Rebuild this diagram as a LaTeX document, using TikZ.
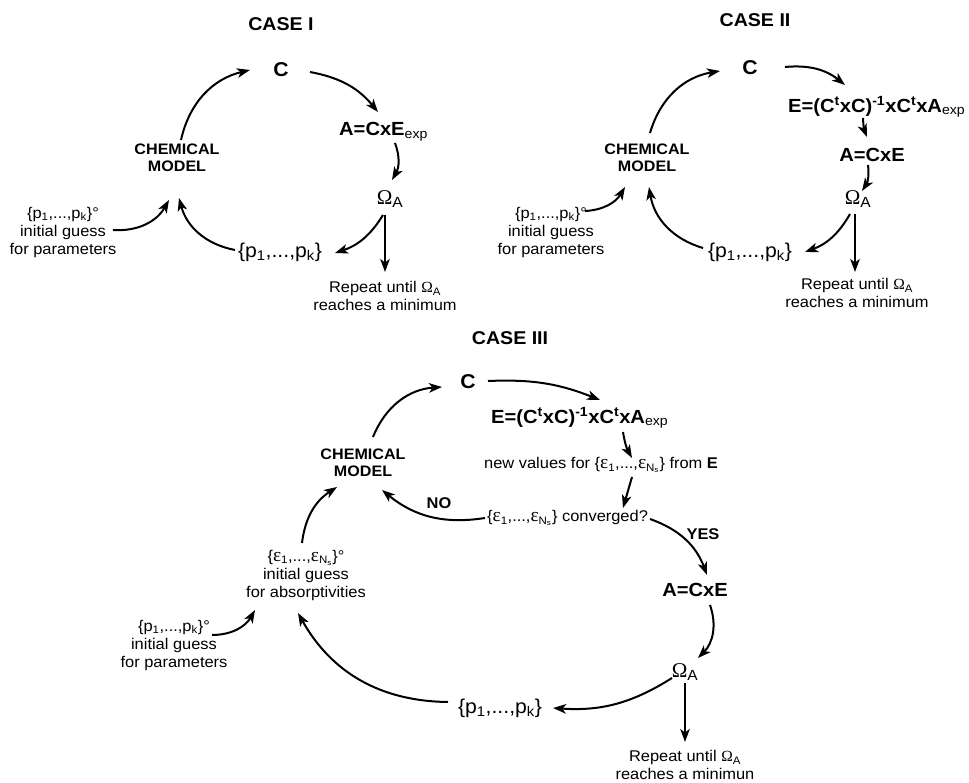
\documentclass[tikz,border=0pt]{standalone}
\usepackage{fontspec}
\setmainfont{Liberation Sans}[FakeStretch=1.06]
\newfontfamily\symfnt{Liberation Serif}
\newfontfamily\epsfnt{Liberation Serif}[Scale=1.25]
\usetikzlibrary{arrows.meta}
\newcommand{\Om}{{\symfnt Ω}}
\newcommand{\eps}{{\epsfnt ε}}
\newcommand{\sbs}[1]{\textsubscript{#1}}
\newcommand{\sps}[1]{\textsuperscript{#1}}
\tikzset{
  ttl/.style={font=\fontsize{18.5}{21}\selectfont\bfseries, inner sep=1pt},
  bigc/.style={font=\fontsize{20}{22}\selectfont\bfseries, inner sep=2pt},
  eqn/.style={font=\fontsize{19}{21}\selectfont\bfseries, inner sep=2pt},
  chm/.style={font=\fontsize{15.2}{16.5}\selectfont\bfseries, align=center, inner sep=2pt},
  lbl/.style={font=\fontsize{15.5}{18}\selectfont, align=center, inner sep=1pt},
  pset/.style={font=\fontsize{20}{22}\selectfont, inner sep=2pt},
  omg/.style={font=\fontsize{21}{22}\selectfont, inner sep=2pt},
  yn/.style={font=\fontsize{15.5}{17}\selectfont\bfseries, inner sep=1pt},
  arr/.style={-{Stealth[length=13pt,width=9.5pt,inset=3.5pt]}, line width=2pt},
}
\begin{document}
\begin{tikzpicture}[x=1pt,y=-1pt]
\useasboundingbox (0,0) rectangle (969,783);
% ---------------- CASE I
\node[ttl] (t1) at (281,24) {CASE I};
\node[bigc] (c1) at (281,70) {C};
\node[eqn, anchor=west] (a1) at (337,132) {A=CxE\sbs{\mdseries exp}};
\node[chm] (cm1) at (177,158) {CHEMICAL\\MODEL};
\node[omg] (o1) at (390,199) {\Om\sbs{A}};
\node[pset] (p1) at (280,252) {\{p\sbs{1},...,p\sbs{k}\}};
\node[lbl] (g1) at (63,232) {\{p\sbs{1},...,p\sbs{k}\}°\\initial guess\\for parameters};
\node[lbl] (r1) at (385,296) {Repeat until \Om\sbs{A}\\reaches a minimum};
\draw[arr] ([shift={(4,-18)}]cm1.center) to[bend left=32] ([shift={(-31,0)}]c1.center);
\draw[arr] ([shift={(29,2)}]c1.center) to[bend left=20] ([shift={(41,-20)}]a1.west);
\draw[arr] ([shift={(58,11)}]a1.west) to[bend left=25] ([shift={(2,-19)}]o1.center);
\draw[arr] ([shift={(-7,16)}]o1.center) to[bend left=20] ([shift={(55,1)}]p1.center);
\draw[arr] ([shift={(-45,-2)}]p1.center) to[bend left=32] ([shift={(2,40)}]cm1.center);
\draw[arr] ([shift={(50,-2)}]g1.center) to[bend right=32] ([shift={(-8,42)}]cm1.center);
\draw[arr] ([shift={(-5,16)}]o1.center) -- ([shift={(0,-24)}]r1.center);
% ---------------- CASE II
\node[ttl] (t2) at (755,20) {CASE II};
\node[bigc] (c2) at (750,68) {C};
\node[eqn, anchor=west] (e2) at (786,107) {E=(C\sps{t}xC)\sps{-1}xC\sps{t}xA\sbs{\mdseries exp}};
\node[eqn] (a2) at (872,155) {A=CxE};
\node[chm] (cm2) at (647,158) {CHEMICAL\\MODEL};
\node[omg] (o2) at (858,199) {\Om\sbs{A}};
\node[pset] (p2) at (750,252) {\{p\sbs{1},...,p\sbs{k}\}};
\node[lbl] (g2) at (551,232) {\{p\sbs{1},...,p\sbs{k}\}°\\initial guess\\for parameters};
\node[lbl] (r2) at (857,293) {Repeat until \Om\sbs{A}\\reaches a minimum};
\draw[arr] ([shift={(3,-25)}]cm2.center) to[bend left=32] ([shift={(-30,3)}]c2.center);
\draw[arr] ([shift={(35,-1)}]c2.center) to[bend left=22] ([shift={(59,-22)}]e2.west);
\draw[arr] ([shift={(77,11)}]e2.west) to[bend right=10] ([shift={(-5,-18)}]a2.center);
\draw[arr] ([shift={(-4,10)}]a2.center) to[bend left=20] ([shift={(4,-8)}]o2.center);
\draw[arr] ([shift={(-8,15)}]o2.center) to[bend left=20] ([shift={(55,0)}]p2.center);
\draw[arr] ([shift={(-47,-4)}]p2.center) to[bend left=32] ([shift={(2,29)}]cm2.center);
\draw[arr] ([shift={(34,-21)}]g2.center) to[bend right=28] ([shift={(-22,29)}]cm2.center);
\draw[arr] ([shift={(-3,15)}]o2.center) -- ([shift={(-2,-21)}]r2.center);
% ---------------- CASE III
\node[ttl] (t3) at (510,338) {CASE III};
\node[bigc] (c3) at (468,382) {C};
\node[eqn, anchor=west] (e3) at (489,418) {E=(C\sps{t}xC)\sps{-1}xC\sps{t}xA\sbs{\mdseries exp}};
\node[lbl, anchor=west] (n3) at (483,465) {new values for \{\eps\sbs{1},...,\eps\sbs{N\sbs{s}}\} from \textbf{E}};
\node[lbl, anchor=west] (v3) at (486,518) {\{\eps\sbs{1},...,\eps\sbs{N\sbs{s}}\} converged?};
\node[yn] (yes) at (703,534) {YES};
\node[yn] (no) at (439,503) {NO};
\node[eqn] (a3) at (695,590) {A=CxE};
\node[omg] (o3) at (685,672) {\Om\sbs{A}};
\node[pset] (p3) at (500,708) {\{p\sbs{1},...,p\sbs{k}\}};
\node[lbl] (r3) at (685,765) {Repeat until \Om\sbs{A}\\reaches a minimun};
\node[chm] (cm3) at (363,463) {CHEMICAL\\MODEL};
\node[lbl] (ab3) at (306,575) {\{\eps\sbs{1},...,\eps\sbs{N\sbs{s}}\}°\\initial guess\\for absorptivities};
\node[lbl] (g3) at (174,645) {\{p\sbs{1},...,p\sbs{k}\}°\\initial guess\\for parameters};
\draw[arr] ([shift={(10,-26)}]cm3.center) to[bend left=32] ([shift={(-26,5)}]c3.center);
\draw[arr] ([shift={(20,-1)}]c3.center) to[bend left=12] ([shift={(111,-18)}]e3.west);
\draw[arr] ([shift={(134,14)}]e3.west) to[bend right=10] ([shift={(149,-7)}]n3.west);
\draw[arr] ([shift={(149,12)}]n3.west) -- ([shift={(137,-10)}]v3.west);
\draw[arr] ([shift={(-1,0)}]v3.west) to[bend left=24] ([shift={(19,27)}]cm3.center);
\draw[arr] ([shift={(164,1)}]v3.west) to[bend left=25] ([shift={(12,-15)}]a3.center);
\draw[arr] ([shift={(15,15)}]a3.center) to[bend left=32] ([shift={(13,-14)}]o3.center);
\draw[arr] ([shift={(-13,6)}]o3.center) to[bend left=18] ([shift={(53,0)}]p3.center);
\draw[arr] ([shift={(-52,-6)}]p3.center) to[bend left=30] ([shift={(-8,38)}]ab3.center);
\draw[arr] ([shift={(-4,-32)}]ab3.center) to[bend left=25] ([shift={(-26,24)}]cm3.center);
\draw[arr] ([shift={(38,-10)}]g3.center) to[bend right=30] ([shift={(-51,35)}]ab3.center);
\draw[arr] ([shift={(0,11)}]o3.center) -- ([shift={(0,-23)}]r3.center);
\end{tikzpicture}
\end{document}
